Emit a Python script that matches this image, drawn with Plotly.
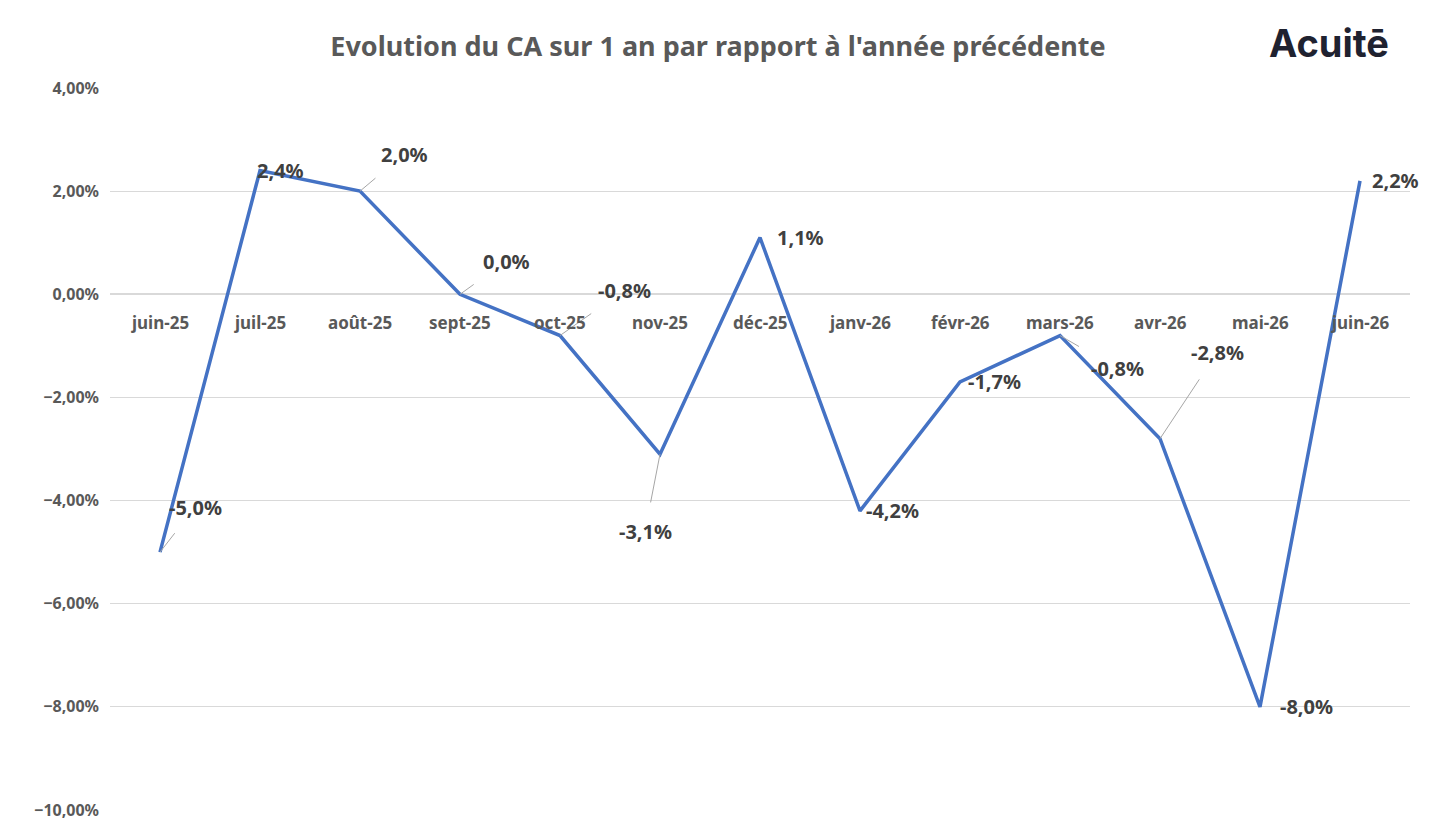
import plotly.graph_objects as go

months = ["juin-25", "juil-25", "août-25", "sept-25", "oct-25", "nov-25", "déc-25",
          "janv-26", "févr-26", "mars-26", "avr-26", "mai-26", "juin-26"]
evolution = [-5.0, 2.4, 2.0, 0.0, -0.8, -3.1, 1.1, -4.2, -1.7, -0.8, -2.8, -8.0, 2.2]

# label offsets (px) and whether a leader line is drawn
offsets = [(35, -45, True), (20, 0, False), (44, -37, True), (46, -33, True),
           (64, -45, True), (-15, 77, True), (40, 0, False), (32, 0, False),
           (34, 0, False), (57, 33, True), (57, -86, True), (46, 0, False),
           (35, 0, False)]

x_idx = list(range(len(months)))
yvals = [v / 100 for v in evolution]

fig = go.Figure(go.Scatter(x=x_idx, y=yvals, mode="lines",
                           line=dict(color="#4472C4", width=3.5), hoverinfo="skip"))

ann = []
for i, (m, v) in enumerate(zip(months, evolution)):
    ax, ay, lead = offsets[i]
    ann.append(dict(x=i, y=v / 100, xref="x", yref="y",
                    text="<b>" + f"{v:.1f}%".replace(".", ",") + "</b>", showarrow=lead,
                    ax=ax, ay=ay, arrowhead=0, arrowwidth=1, arrowcolor="#A6A6A6",
                    xshift=0 if lead else ax,
                    font=dict(size=20, color="#404040", family="Noto Sans"),
                    standoff=0, startstandoff=14))
    # category labels sit under the zero line
    ann.append(dict(x=i, y=0, xref="x", yref="y", text=f"<b>{m}</b>", showarrow=False,
                    yshift=-28, font=dict(size=17, color="#595959", family="Noto Sans")))

ann.append(dict(x=0.985, y=1.0, xref="paper", yref="paper", xanchor="right", yanchor="bottom",
                text="<b>Acuitē</b>", showarrow=False, yshift=20,
                font=dict(size=38, color="#1F2230", family="Inter")))

fig.update_layout(
    width=1420, height=824,
    paper_bgcolor="white", plot_bgcolor="white",
    margin=dict(l=102, r=18, t=80, b=22),
    separators=", ",
    showlegend=False,
    title=dict(text="<b>Evolution du CA sur 1 an par rapport à l'année précédente</b>",
               x=0.5, xanchor="center", y=0.965,
               font=dict(size=27, color="#595959", family="Noto Sans")),
    xaxis=dict(range=[-0.5, 12.5], showticklabels=False, showgrid=False, zeroline=False,
               fixedrange=True),
    yaxis=dict(range=[-0.10, 0.04], dtick=0.02, tickformat=".2%", gridcolor="#D9D9D9",
               zeroline=True, zerolinecolor="#D9D9D9", zerolinewidth=1.5,
               tickfont=dict(size=16, color="#595959", family="Noto Sans"),
               ticklabelstandoff=10, tickprefix="<b>", ticksuffix="</b>"),
    annotations=ann,
    shapes=[dict(type="rect", xref="paper", yref="paper", x0=-0.083, x1=1.017, y0=-0.036, y1=1.119,
                 line=dict(color="#D0D0D0", width=1.5), layer="below")],
)

fig.write_html("out.html")
